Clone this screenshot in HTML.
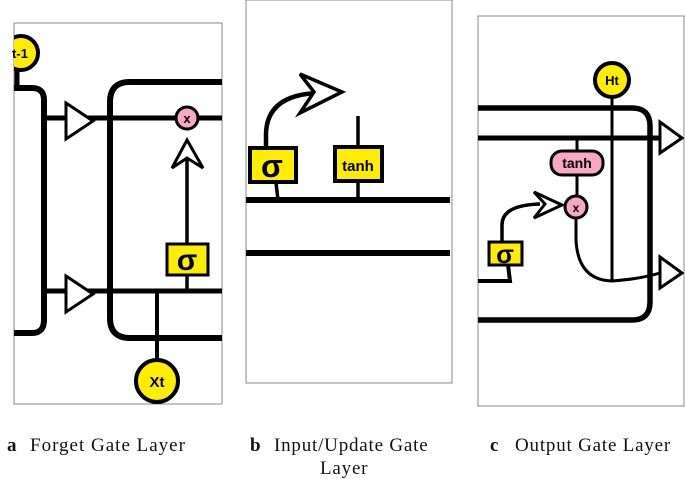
<!DOCTYPE html>
<html><head><meta charset="utf-8"><style>
html,body{margin:0;padding:0;background:#fff;}
svg{display:block;}
</style></head><body>
<svg width="685" height="479" viewBox="0 0 685 479" xmlns="http://www.w3.org/2000/svg">
<defs>
<clipPath id="ca"><rect x="14" y="23" width="208" height="381"/></clipPath>
<clipPath id="cc"><rect x="478" y="16" width="206" height="390"/></clipPath>
</defs>
<!-- Panel a -->
<rect x="14" y="23" width="208" height="381" fill="#fff" stroke="#888" stroke-width="1"/>
<g clip-path="url(#ca)" stroke="#000" fill="none" stroke-linecap="butt">
 <line x1="17" y1="70" x2="17" y2="88" stroke-width="5"/>
 <path d="M10 88 H32 Q44 88 44 100 V320 Q44 333 32 333 H10" stroke-width="6"/>
 <line x1="44" y1="118" x2="230" y2="118" stroke-width="5"/>
 <line x1="44" y1="291" x2="230" y2="291" stroke-width="5"/>
 <path d="M230 82 H130 Q110 82 110 102 V318 Q110 338 130 338 H230" stroke-width="6"/>
 <polygon points="66,103 93,121 66,139" fill="#fff" stroke-width="3"/>
 <polygon points="66,276 93,294 66,312" fill="#fff" stroke-width="3"/>
 <line x1="187" y1="245" x2="187" y2="150" stroke-width="3.5"/>
 <path d="M187 140 L172 168 L187 158 L203 168 Z" fill="#fff" stroke-width="3"/>
 <line x1="187" y1="275" x2="187" y2="291" stroke-width="3.5"/>
 <line x1="157" y1="291" x2="157" y2="362" stroke-width="4"/>
 <circle cx="21" cy="53" r="17" fill="#ffed00" stroke-width="4"/>
 <circle cx="187" cy="118" r="11" fill="#f7a8c4" stroke-width="3"/>
 <rect x="167" y="244" width="41" height="31" fill="#ffed00" stroke-width="3"/>
 <circle cx="157" cy="381" r="21" fill="#ffed00" stroke-width="4"/>
</g>
<g font-family="Liberation Sans, sans-serif" font-weight="bold" text-anchor="middle">
 <text x="20" y="58" font-size="13">t-1</text>
 <text x="187" y="123" font-size="13">x</text>
 <text x="187" y="270" font-size="30">σ</text>
 <text x="157" y="387" font-size="15">Xt</text>
</g>
<!-- Panel b -->
<rect x="246" y="0" width="206" height="383" fill="#fff" stroke="#888" stroke-width="1"/>
<g stroke="#000" fill="none">
 <line x1="246" y1="200" x2="450" y2="200" stroke-width="6"/>
 <line x1="246" y1="253" x2="450" y2="253" stroke-width="6"/>
 <path d="M276 183 L278 200" stroke-width="3.5"/>
 <line x1="358" y1="116" x2="358" y2="200" stroke-width="3.5"/>
 <path d="M266 147 V135 Q266 95 318 93" stroke-width="4.5"/>
 <path d="M342 92 L300 74 L314 92 L300 113 Z" fill="#fff" stroke-width="3.5"/>
 <rect x="250" y="148" width="46" height="34" fill="#ffed00" stroke-width="4"/>
 <rect x="335" y="147" width="47" height="34" fill="#ffed00" stroke-width="4"/>
</g>
<g font-family="Liberation Sans, sans-serif" font-weight="bold" text-anchor="middle">
 <text x="272" y="177" font-size="32">σ</text>
 <text x="358" y="171" font-size="15">tanh</text>
</g>
<!-- Panel c -->
<rect x="478" y="16" width="206" height="390" fill="#fff" stroke="#888" stroke-width="1"/>
<g clip-path="url(#cc)" stroke="#000" fill="none">
 <path d="M470 108 H632 Q650 108 650 126 V302 Q650 320 632 320 H470" stroke-width="5.5"/>
 <line x1="470" y1="138" x2="662" y2="138" stroke-width="5"/>
 <polygon points="660,122 682,138 660,153" fill="#fff" stroke-width="3"/>
 <line x1="612" y1="97" x2="612" y2="281" stroke-width="3"/>
 <line x1="577" y1="138" x2="577" y2="197" stroke-width="3"/>
 <path d="M576 218 V240 Q578 280 612 281 Q640 279 660 273" stroke-width="3"/>
 <polygon points="660,257 682,273 660,288" fill="#fff" stroke-width="3"/>
 <path d="M470 281 H510 L508 265" stroke-width="4"/>
 <path d="M502 242 V225 Q502 205 540 204" stroke-width="3.5"/>
 <path d="M562 205 L534 192 L545 204 L534 218 Z" fill="#fff" stroke-width="3"/>
 <circle cx="612" cy="80" r="17" fill="#ffed00" stroke-width="4"/>
 <rect x="551" y="151" width="52" height="24" rx="11" fill="#f7a8c4" stroke-width="3"/>
 <circle cx="576" cy="207" r="11" fill="#f7a8c4" stroke-width="3"/>
 <rect x="489" y="242" width="33" height="23" fill="#ffed00" stroke-width="3"/>
</g>
<g font-family="Liberation Sans, sans-serif" font-weight="bold" text-anchor="middle">
 <text x="612" y="85" font-size="13">Ht</text>
 <text x="577" y="168" font-size="14">tanh</text>
 <text x="576" y="212" font-size="12">x</text>
 <text x="505" y="263" font-size="26">σ</text>
</g>
<!-- captions -->
<g font-family="Liberation Serif, serif" font-size="19" fill="#111">
 <text x="7" y="451" font-weight="bold">a</text>
 <text x="30" y="451" letter-spacing="1">Forget Gate Layer</text>
 <text x="250" y="451" font-weight="bold">b</text>
 <text x="274" y="451" letter-spacing="0.8">Input/Update Gate</text>
 <text x="320" y="474" letter-spacing="0.8">Layer</text>
 <text x="490" y="451" font-weight="bold">c</text>
 <text x="515" y="451" letter-spacing="0.8">Output Gate Layer</text>
</g>
</svg>
</body></html>
